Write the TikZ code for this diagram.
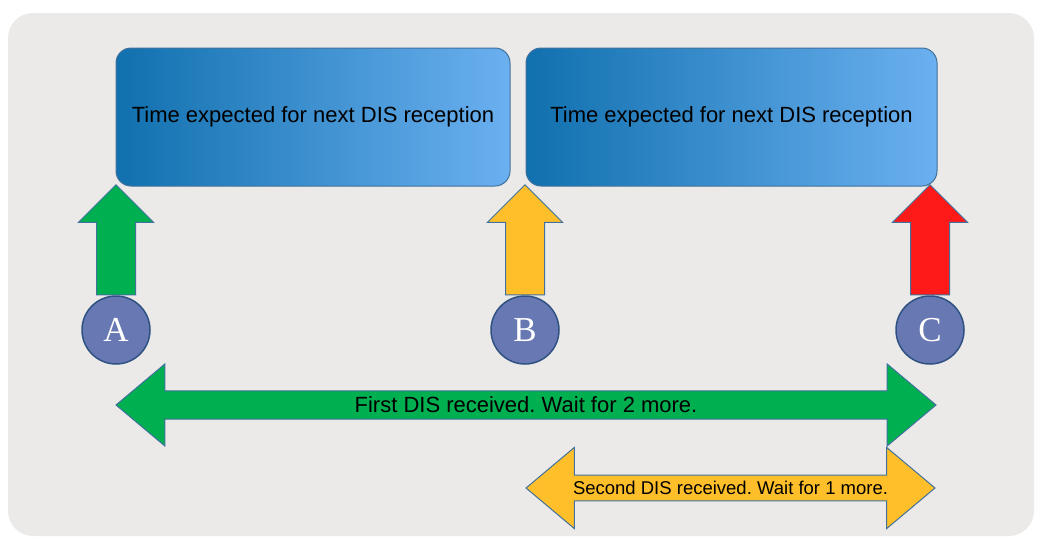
\documentclass[tikz,border=0pt]{standalone}
\usepackage{fontspec}
\newfontfamily\arialfont{Liberation Sans}
\newfontfamily\letterfont{Liberation Serif}
\usepackage{tikz}
\usetikzlibrary{shapes.arrows,positioning}
\frenchspacing
\definecolor{bgray}{HTML}{EBEAE8}
\definecolor{boxdark}{HTML}{1170AE}
\definecolor{boxlight}{HTML}{6BB0F0}
\definecolor{edgeblue}{HTML}{41719C}
\definecolor{stationblue}{HTML}{6878B2}
\definecolor{stationedge}{HTML}{2F5283}
\definecolor{okgreen}{HTML}{00B050}
\definecolor{waityellow}{HTML}{FFBF2A}
\definecolor{alarmred}{HTML}{FF1A1A}
\tikzset{
    %Define style for the waiting windows
    timebox/.style={
           rectangle,
           rounded corners=15pt,
           draw=edgeblue, line width=1pt,
           left color=boxdark, right color=boxlight,
           minimum height=138pt,
           font=\arialfont\fontsize{22}{26}\selectfont,
           text centered},
    %Define style for the receptions
    station/.style={
           circle,
           draw=stationedge, line width=1.5pt,
           fill=stationblue,
           minimum size=68pt,
           inner sep=0pt,
           text=white,
           font=\letterfont\fontsize{35}{40}\selectfont},
    %Define style for the block arrows
    uparrow/.style={
           single arrow,
           shape border rotate=90,
           draw=edgeblue, line width=1pt,
           minimum height=110pt,
           minimum width=74pt,
           single arrow head extend=18pt,
           inner sep=19pt,
           anchor=tail},
    spanarrow/.style={
           double arrow,
           draw=edgeblue, line width=1pt,
           double arrow tip angle=80,
           double arrow head extend=20pt,
           inner sep=2pt,
           font=\arialfont\fontsize{22}{26}\selectfont}
}
\begin{document}
\begin{tikzpicture}[x=1pt,y=-1pt]
\useasboundingbox (0,0) rectangle (1038,538);
\fill[bgray, rounded corners=25pt] (8,13) rectangle (1034,536);
\node[timebox, minimum width=394pt](win1) at (313,117){Time expected for next DIS reception};
\node[timebox, minimum width=411pt, right=15pt of win1](win2){Time expected for next DIS reception};
\node[station](A) at (116,330){A};
\node[station](B) at (525,330){B};
\node[station](C) at (930,330){C};
\node[uparrow, fill=okgreen](upA) at (A.north){};
\node[uparrow, fill=waityellow](upB) at (B.north){};
\node[uparrow, fill=alarmred](upC) at (C.north){};
\node[spanarrow, fill=okgreen, minimum height=820pt, minimum width=82pt](first) at (526,405)
    {First DIS received. Wait for 2 more.};
\node[spanarrow, fill=waityellow, minimum height=409pt, minimum width=81pt,
    font=\arialfont\fontsize{18.5}{22}\selectfont](second) at (730.5,488)
    {Second DIS received. Wait for 1 more.};
\end{tikzpicture}
\end{document}
